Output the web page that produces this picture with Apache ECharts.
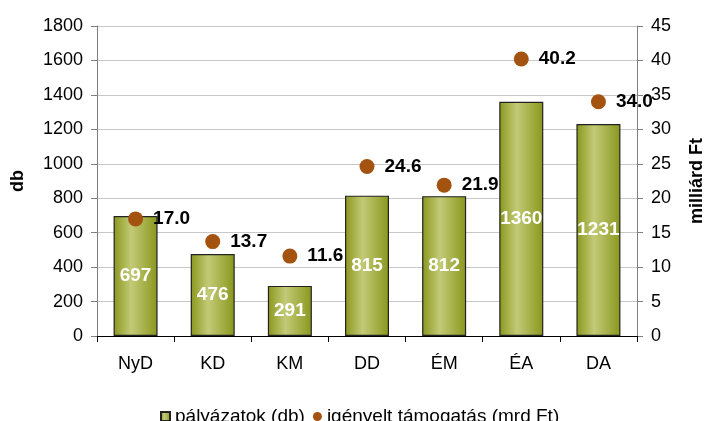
<!DOCTYPE html>
<html>
<head>
<meta charset="utf-8">
<script src="https://cdn.jsdelivr.net/npm/echarts@6/dist/echarts.min.js"></script>
<style>html,body{margin:0;padding:0;background:#fff}#chart{width:708px;height:421px}</style>
</head>
<body>
<div id="chart"></div>
<script>
var regions = ['NyD', 'KD', 'KM', 'DD', 'ÉM', 'ÉA', 'DA'];
var applications = [697, 476, 291, 815, 812, 1360, 1231];
var requested = [17.0, 13.7, 11.6, 24.6, 21.9, 40.2, 34.0];

var myChart = echarts.init(document.getElementById('chart'));

var barColor = new echarts.graphic.LinearGradient(0, 0, 1, 0, [
    {offset: 0, color: '#8a971c'},
    {offset: 0.4, color: '#c3ca77'},
    {offset: 1, color: '#8a971c'}
]);

var option = {
    animation: false,
    textStyle: {fontFamily: 'Liberation Sans, Arial, sans-serif'},
    grid: {left: 97, right: 71, top: 26, bottom: 85, outerBoundsMode: 'none'},
    legend: {
        top: 402,
        left: 155,
        itemWidth: 9,
        itemHeight: 9,
        itemGap: 8,
        textStyle: {fontSize: 19, color: '#000'},
        data: [
            {name: 'pályázatok (db)', icon: 'rect'},
            {name: 'igényelt támogatás (mrd Ft)', icon: 'circle'}
        ]
    },
    xAxis: {
        type: 'category',
        data: regions,
        axisLine: {lineStyle: {color: '#000'}},
        axisTick: {show: true, length: 6, lineStyle: {color: '#000'}},
        axisLabel: {fontSize: 18, color: '#000', margin: 19}
    },
    yAxis: [{
        type: 'value',
        min: 0, max: 1800, interval: 200,
        name: 'db',
        nameLocation: 'middle',
        nameGap: 70,
        nameTextStyle: {fontSize: 18, fontWeight: 'bold', color: '#000'},
        axisLine: {show: true, lineStyle: {color: '#808080'}},
        axisTick: {show: true, inside: false, length: 6, lineStyle: {color: '#808080'}},
        axisLabel: {fontSize: 18, color: '#000', margin: 14, formatter: function (v) { return String(v); }},
        splitLine: {lineStyle: {color: '#c8c8c8', width: 1.2}}
    }, {
        type: 'value',
        min: 0, max: 45, interval: 5,
        name: 'milliárd Ft',
        nameLocation: 'middle',
        nameGap: 51,
        nameRotate: 90,
        nameTextStyle: {fontSize: 18, fontWeight: 'bold', color: '#000'},
        axisLine: {show: true, lineStyle: {color: '#808080'}},
        axisTick: {show: true, length: 6, lineStyle: {color: '#808080'}},
        axisLabel: {fontSize: 18, color: '#000', margin: 14},
        splitLine: {show: false}
    }],
    series: [{
        name: 'pályázatok (db)',
        type: 'bar',
        data: applications,
        barWidth: 44,
        itemStyle: {color: barColor, borderColor: '#222', borderWidth: 1.2},
        label: {
            show: true,
            position: 'inside',
            color: '#fff',
            fontSize: 19,
            fontWeight: 'bold'
        }
    }, {
        name: 'igényelt támogatás (mrd Ft)',
        type: 'scatter',
        yAxisIndex: 1,
        data: requested,
        symbolSize: 15,
        itemStyle: {color: '#a3520f', opacity: 1},
        label: {
            show: true,
            position: 'right',
            distance: 10,
            color: '#000',
            fontSize: 19,
            fontWeight: 'bold',
            formatter: function (p) { return p.value.toFixed(1); }
        }
    }]
};
myChart.setOption(option);
</script>
</body>
</html>
